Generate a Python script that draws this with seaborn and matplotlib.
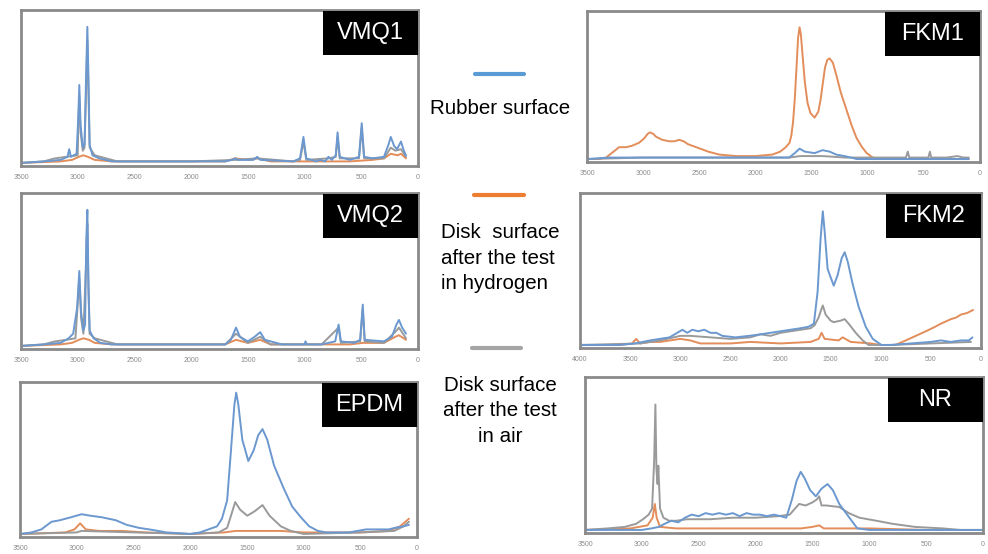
import numpy as np
import pandas as pd
import matplotlib
matplotlib.use("Agg")
import matplotlib.pyplot as plt
import seaborn as sns
from matplotlib.patches import Rectangle
from matplotlib.lines import Line2D

# ---- data: (wavenumber, relative intensity %) ----
vmq1_rubber = [(3500, 0), (3300, 1), (3150, 2), (3090, 4), (3075, 9), (3060, 4), (3010, 6), (2995, 30),
               (2986, 51), (2975, 25), (2955, 10), (2940, 12), (2925, 60), (2915, 89), (2905, 55),
               (2895, 12), (2870, 5), (2810, 3), (2700, 1), (2000, 1), (1700, 1), (1640, 2), (1613, 3),
               (1590, 2), (1450, 2), (1418, 4), (1390, 2), (1100, 1), (1040, 3), (1010, 17), (985, 3),
               (900, 1), (860, 2), (820, 1), (789, 4), (760, 2), (725, 5), (709, 20), (690, 4), (600, 2),
               (520, 4), (496, 26), (475, 4), (400, 3), (300, 4), (260, 12), (240, 17), (210, 11),
               (185, 9), (150, 14), (125, 8), (106, 5)]
vmq1_air = [(3500, 0), (3300, 1), (3200, 3), (3100, 4), (3000, 5), (2995, 25), (2986, 44), (2975, 20),
            (2955, 8), (2940, 10), (2925, 50), (2915, 80), (2905, 45), (2895, 10), (2850, 5), (2750, 3),
            (2650, 1), (2000, 1), (1613, 2), (1418, 3), (1100, 1), (1040, 2), (1010, 14), (985, 2), (789, 3),
            (725, 4), (709, 17), (690, 3), (520, 3), (496, 23), (475, 3), (300, 3), (240, 10), (200, 8),
            (150, 9), (106, 4)]
vmq1_h2 = [(3500, 0), (3150, 1), (3050, 2), (2990, 4), (2950, 5), (2910, 4), (2850, 2), (2700, 1),
           (1700, 1), (1613, 3), (1500, 2), (1418, 3), (1300, 1), (600, 1), (400, 2), (300, 3), (240, 6),
           (180, 5), (150, 6), (106, 3)]

vmq2_rubber = [(3500, 0), (3300, 1), (3150, 2), (3080, 5), (3040, 8), (3005, 25), (2986, 49), (2970, 22),
               (2950, 10), (2935, 14), (2924, 70), (2915, 89), (2905, 40), (2895, 10), (2860, 5), (2800, 2),
               (2700, 1), (2000, 1), (1700, 1), (1650, 4), (1604, 12), (1570, 6), (1500, 3), (1440, 6),
               (1391, 9), (1350, 4), (1200, 1), (1000, 1), (992, 3), (980, 1), (850, 1), (730, 3), (700, 14),
               (680, 3), (560, 2), (510, 4), (487, 27), (470, 4), (300, 3), (230, 6), (190, 14), (168, 17),
               (140, 12), (106, 8)]
vmq2_air = [(3500, 0), (3300, 1), (3200, 3), (3100, 4), (3020, 5), (3005, 22), (2986, 44), (2970, 18),
            (2950, 8), (2924, 60), (2915, 80), (2905, 35), (2895, 8), (2850, 5), (2750, 3), (2650, 1),
            (1700, 1), (1604, 8), (1500, 2), (1391, 6), (1300, 1), (850, 1), (700, 12), (680, 2), (510, 3),
            (487, 24), (470, 3), (300, 2), (190, 10), (168, 12), (106, 5)]
vmq2_h2 = [(3500, 0), (3150, 1), (3050, 2), (2990, 4), (2950, 5), (2900, 4), (2850, 2), (2700, 1),
           (1700, 1), (1604, 4), (1500, 2), (1391, 4), (1300, 1), (600, 1), (487, 2), (300, 2), (200, 6),
           (168, 7), (106, 4)]

fkm1_rubber = [(3500, 0), (3300, 1), (2000, 1), (1700, 1), (1650, 4), (1607, 7), (1560, 5), (1473, 4),
               (1402, 6), (1339, 5), (1280, 3), (1205, 2), (1098, 0), (600, 0), (100, 0)]
fkm1_air = [(3500, 0), (3000, 1), (2000, 1), (1700, 1), (1600, 2), (1400, 2), (1200, 1), (700, 1),
            (660, 1), (643, 5), (630, 1), (460, 1), (446, 5), (435, 1), (300, 1), (200, 2), (150, 1),
            (100, 1)]
fkm1_h2 = [(3500, 0), (3400, 0), (3330, 1), (3280, 4), (3214, 8), (3150, 8), (3098, 9), (3036, 11),
           (2990, 14), (2960, 17), (2940, 18), (2910, 17), (2884, 15), (2830, 13), (2768, 12), (2720, 12),
           (2679, 13), (2640, 12), (2600, 10), (2527, 8), (2420, 5), (2321, 3), (2170, 2), (2000, 2),
           (1850, 3), (1780, 5), (1730, 8), (1696, 11), (1680, 16), (1665, 25), (1650, 40), (1634, 62),
           (1620, 82), (1607, 89), (1595, 84), (1580, 70), (1560, 52), (1536, 38), (1510, 31), (1473, 28),
           (1440, 32), (1420, 40), (1402, 50), (1380, 62), (1360, 67), (1339, 68), (1310, 65), (1277, 56),
           (1240, 45), (1188, 33), (1140, 22), (1098, 14), (1050, 8), (1009, 4), (955, 1), (900, 0),
           (500, 0), (100, 0)]

fkm2_rubber = [(4000, 0), (3600, 0), (3450, 1), (3300, 3), (3107, 5), (3030, 8), (2978, 10), (2930, 8),
               (2880, 10), (2820, 9), (2760, 10), (2700, 8), (2640, 8), (2581, 6), (2450, 5), (2313, 6),
               (2200, 7), (2100, 8), (2000, 9), (1900, 10), (1800, 11), (1720, 12), (1667, 14), (1630, 35),
               (1600, 70), (1578, 88), (1560, 75), (1530, 50), (1469, 39), (1430, 46), (1390, 57),
               (1360, 61), (1330, 55), (1280, 40), (1220, 25), (1150, 12), (1080, 4), (993, 0), (900, 0),
               (700, 1), (500, 2), (400, 3), (300, 2), (200, 3), (120, 3), (85, 5)]
fkm2_air = [(4000, 0), (3400, 1), (3200, 3), (3000, 6), (2900, 6), (2700, 5), (2500, 4), (2300, 5),
            (2200, 7), (2100, 6), (2000, 8), (1900, 9), (1800, 10), (1700, 11), (1660, 13), (1620, 18),
            (1590, 24), (1578, 26), (1550, 20), (1500, 16), (1469, 15), (1400, 16), (1360, 17), (1320, 14),
            (1250, 8), (1180, 3), (1121, 0), (900, 0), (500, 1), (100, 2)]
fkm2_h2 = [(4000, 0), (3600, 0), (3480, 1), (3440, 4), (3400, 1), (3300, 2), (3200, 2), (3100, 3),
           (3000, 4), (2900, 3), (2800, 1), (2500, 1), (2300, 2), (2000, 1), (1700, 2), (1620, 4),
           (1590, 8), (1560, 4), (1420, 3), (1380, 5), (1300, 2), (1100, 1), (1000, 0), (854, 0), (750, 3),
           (650, 6), (550, 9), (457, 12), (400, 14), (300, 17), (250, 18), (200, 20), (140, 21), (79, 23)]

epdm_rubber = [(3500, 0), (3400, 1), (3312, 3), (3223, 8), (3150, 9), (3050, 11), (2956, 13), (2880, 12),
               (2780, 11), (2654, 9), (2560, 6), (2450, 4), (2360, 3), (2208, 1), (2000, 0), (1914, 1),
               (1763, 5), (1720, 10), (1674, 22), (1640, 55), (1610, 85), (1594, 93), (1575, 85),
               (1540, 62), (1487, 48), (1440, 55), (1400, 65), (1362, 69), (1320, 62), (1260, 45),
               (1175, 30), (1100, 18), (1024, 11), (950, 5), (873, 2), (800, 1), (600, 1), (450, 3),
               (350, 3), (250, 3), (196, 4), (120, 5), (71, 6)]
epdm_air = [(3500, 0), (3000, 1), (2960, 2), (2000, 0), (1750, 1), (1674, 4), (1640, 12), (1603, 21),
            (1560, 16), (1496, 12), (1430, 15), (1362, 19), (1300, 12), (1200, 5), (1113, 2), (1000, 0),
            (500, 1), (200, 2), (120, 5), (71, 8)]
epdm_h2 = [(3500, 0), (3100, 1), (3020, 3), (2970, 7), (2920, 3), (2800, 2), (2600, 2), (2400, 1),
           (2000, 0), (1700, 1), (1600, 2), (1400, 2), (1200, 2), (1000, 1), (500, 1), (250, 2), (150, 5),
           (71, 10)]

nr_rubber = [(3500, 0), (3000, 0), (2916, 1), (2850, 2), (2800, 4), (2740, 6), (2680, 5), (2620, 8),
             (2563, 10), (2500, 9), (2440, 11), (2380, 10), (2320, 11), (2260, 10), (2200, 11), (2140, 9),
             (2080, 11), (2020, 10), (1960, 10), (1900, 9), (1840, 10), (1780, 9), (1730, 8), (1680, 20),
             (1640, 32), (1603, 38), (1570, 34), (1520, 26), (1470, 22), (1420, 27), (1367, 30),
             (1320, 26), (1264, 17), (1175, 8), (1105, 1), (1000, 0), (500, 0), (0, 0)]
nr_air = [(3500, 0), (3300, 1), (3150, 2), (3050, 4), (2990, 7), (2940, 10), (2910, 14), (2892, 45),
          (2881, 82), (2872, 40), (2862, 30), (2855, 42), (2840, 14), (2810, 8), (2760, 6), (2700, 6),
          (2600, 7), (2400, 7), (2200, 8), (2000, 8), (1800, 9), (1700, 10), (1617, 17), (1560, 16),
          (1500, 18), (1460, 20), (1441, 22), (1420, 16), (1379, 16), (1264, 15), (1180, 11), (1087, 8),
          (937, 6), (795, 4), (600, 2), (353, 1), (200, 0), (0, 0)]
nr_h2 = [(3500, 0), (3100, 1), (2950, 3), (2905, 8), (2886, 17), (2870, 8), (2840, 2), (2700, 1),
         (1600, 1), (1500, 2), (1441, 3), (1400, 1), (1000, 1), (500, 0), (0, 0)]

legend_labels = ["Rubber surface", "Disk  surface\nafter the test\nin hydrogen",
                 "Disk surface\nafter the test\nin air"]
tick_values = [4000, 3500, 3000, 2500, 2000, 1500, 1000, 500, 0]

panels = [
    # name, (rubber, air, h2), left, top, right, bottom in px, xmax
    ("VMQ1", (vmq1_rubber, vmq1_air, vmq1_h2), (21, 10, 418, 166), 3500),
    ("FKM1", (fkm1_rubber, fkm1_air, fkm1_h2), (587, 11, 980, 162), 3500),
    ("VMQ2", (vmq2_rubber, vmq2_air, vmq2_h2), (21, 193, 418, 349), 3500),
    ("FKM2", (fkm2_rubber, fkm2_air, fkm2_h2), (580, 193, 981, 348), 4000),
    ("EPDM", (epdm_rubber, epdm_air, epdm_h2), (20, 382, 417, 537), 3500),
    ("NR", (nr_rubber, nr_air, nr_h2), (585, 377, 983, 533), 3500),
]

W, H = 988, 554
line_colors = {"rubber": "#6b98cf", "air": "#9a9a9a", "h2": "#e28d5a"}
legend_colors = ["#5b9bd5", "#ed7d31", "#a5a5a5"]

sns.set_style("white")
plt.rcParams["font.family"] = ["Liberation Sans", "DejaVu Sans"]

fig = plt.figure(figsize=(W / 100, H / 100), dpi=100)

for name, (rubber, air, h2), (l, t, r, b), xmax in panels:
    ax = fig.add_axes([l / W, 1 - b / H, (r - l) / W, (b - t) / H])
    rows = []
    for key, pts in (("h2", h2), ("air", air), ("rubber", rubber)):
        for wn, val in pts:
            rows.append({"wn": wn, "val": val, "series": key})
    df = pd.DataFrame(rows)
    sns.lineplot(data=df, x="wn", y="val", hue="series", hue_order=["h2", "air", "rubber"],
                 palette=line_colors, estimator=None, errorbar=None, legend=False,
                 linewidth=1.4, ax=ax)
    ax.set_xlim(xmax, 0)
    ax.set_ylim(-2, 100)
    ax.set_xticks([v for v in tick_values if v <= xmax])
    ax.set_yticks([])
    ax.set_xlabel("")
    ax.set_ylabel("")
    ax.tick_params(axis="x", length=0, pad=6, labelsize=5, labelcolor="#8c8c8c")
    for sp in ax.spines.values():
        sp.set_color("#8a8a8a")
        sp.set_linewidth(2)

    # black name box in the top-right corner
    bw, bh = 95, 44
    fig.add_artist(Rectangle(((r - bw) / W, 1 - (t + 1 + bh) / H), bw / W, bh / H,
                             transform=fig.transFigure, facecolor="black", edgecolor="none", zorder=5))
    fig.text((r - bw / 2) / W, 1 - (t + 1 + bh / 2) / H, name, color="white", fontsize=17,
             ha="center", va="center", zorder=6)

# central legend
legend_lines = [(74, 475, 524), (195, 474, 524), (348, 472, 521)]
legend_text_y = [108, 258, 411]
legend_align = ["center", "left", "center"]
for (ly, x0, x1), col, lab, ty, al in zip(legend_lines, legend_colors, legend_labels,
                                          legend_text_y, legend_align):
    fig.add_artist(Line2D([x0 / W, x1 / W], [1 - ly / H, 1 - ly / H], transform=fig.transFigure,
                          color=col, linewidth=3))
    fig.text(500 / W, 1 - ty / H, lab, fontsize=14.8, ha="center", va="center",
             linespacing=1.42, multialignment=al, color="black")

fig.savefig("out.png", dpi=100)
